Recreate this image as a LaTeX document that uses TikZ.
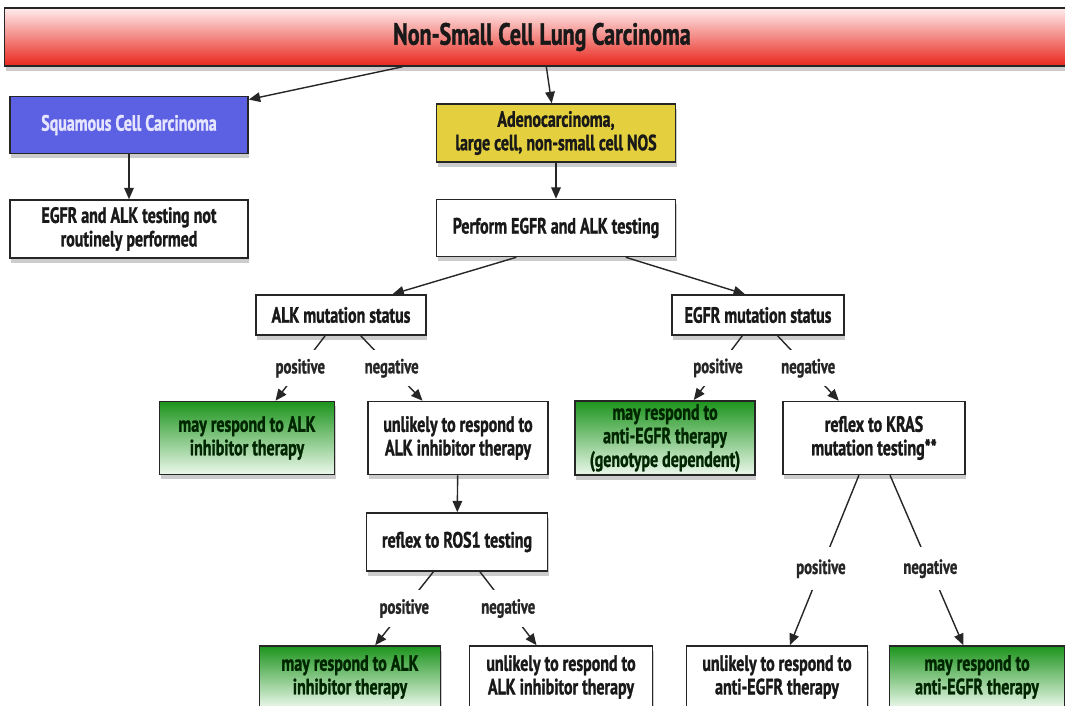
\documentclass[tikz,border=0pt]{standalone}
\usepackage{fontspec}
\setmainfont{PT Sans}[FakeStretch=0.72, BoldFeatures={FakeBold=1.2}]
\usetikzlibrary{arrows.meta,calc,shadows}

\definecolor{sqblue}{RGB}{92,96,226}
\definecolor{adyellow}{RGB}{228,208,62}
\definecolor{gtop}{RGB}{28,148,28}
\definecolor{gbot}{RGB}{236,248,236}
\definecolor{rtop}{RGB}{255,236,236}
\definecolor{rbot}{RGB}{232,38,28}

\tikzset{
  box/.style={draw=black!85, line width=0.9pt, fill=white, align=center,
    font=\fontsize{12.6}{13.4}\selectfont\bfseries, text=black!90, inner sep=2pt,
    drop shadow={shadow xshift=0.6pt, shadow yshift=-2.6pt, opacity=0.4}},
  greenbox/.style={box, top color=gtop, bottom color=gbot, text=black!85!green},
  lbl/.style={fill=white, font=\fontsize{11.6}{12}\selectfont\bfseries, text=black!85,
    inner xsep=1pt, inner ysep=5pt},
  arr/.style={-{Triangle[length=6.5pt,width=5.5pt]}, line width=0.8pt, draw=black!85},
}

\begin{document}
\begin{tikzpicture}[x=0.02cm,y=-0.02cm]
\useasboundingbox (0,0) rectangle (1065,706);

\node[box, top color=rtop, bottom color=rbot, minimum width=21.5cm, minimum height=1.16cm,
  font=\fontsize{17.4}{18}\selectfont\bfseries] (nsclc) at (542,37) {Non-Small Cell Lung Carcinoma};

\node[box, fill=sqblue, text=white!90!blue, minimum width=4.76cm, minimum height=1.14cm] (squam) at (129,125) {Squamous Cell Carcinoma};
\node[box, minimum width=4.76cm, minimum height=1.16cm] (notrout) at (129,229) {EGFR and ALK testing not\\routinely performed};

\node[box, fill=adyellow, minimum width=4.78cm, minimum height=1.16cm] (adeno) at (556,133) {Adenocarcinoma,\\large cell, non-small cell NOS};
\node[box, minimum width=4.78cm, minimum height=1.14cm] (perform) at (556,228) {Perform EGFR and ALK testing};

\node[box, minimum width=3.4cm, minimum height=0.8cm] (alk) at (341,315) {ALK mutation status};
\node[box, minimum width=3.44cm, minimum height=0.8cm] (egfr) at (758,315) {EGFR mutation status};

\node[greenbox, minimum width=3.5cm, minimum height=1.46cm] (mayalk) at (247,438) {may respond to ALK\\inhibitor therapy};
\node[box, minimum width=3.6cm, minimum height=1.46cm] (unlalk) at (458,438) {unlikely to respond to\\ALK inhibitor therapy};
\node[greenbox, minimum width=3.6cm, minimum height=1.46cm] (mayegfr) at (665,438) {may respond to\\anti-EGFR therapy\\(genotype dependent)};
\node[box, minimum width=3.64cm, minimum height=1.46cm] (kras) at (874,438) {reflex to KRAS\\mutation testing**};

\node[box, minimum width=3.62cm, minimum height=1.16cm] (ros) at (457,542) {reflex to ROS1 testing};

\node[greenbox, minimum width=3.62cm, minimum height=1.24cm] (mayalkb) at (350,677) {may respond to ALK\\inhibitor therapy};
\node[box, minimum width=3.66cm, minimum height=1.24cm] (unlalkb) at (561,677) {unlikely to respond to\\ALK inhibitor therapy};
\node[box, minimum width=3.62cm, minimum height=1.24cm] (unlegfr) at (777,677) {unlikely to respond to\\anti-EGFR therapy};
\node[greenbox, minimum width=3.5cm, minimum height=1.24cm] (mayegfrb) at (977,677) {may respond to\\anti-EGFR therapy};

\draw[arr] (nsclc) -- (squam);
\draw[arr] (nsclc) -- (adeno);
\draw[arr] (squam) -- (notrout);
\draw[arr] (adeno) -- (perform);
\draw[arr] ($(perform.south)!.33!(perform.south west)$) -- ($(alk.north)!.6!(alk.north east)$);
\draw[arr] ($(perform.south)!.58!(perform.south east)$) -- ($(egfr.north)!.15!(egfr.north west)$);

\draw[arr] (alk) -- node[lbl] (alkpos) {positive} (mayalk);
\draw[arr] (alk) -- node[lbl] (alkneg) {negative} (unlalk);
\draw[arr] (egfr) -- node[lbl] (egfrpos) {positive} (mayegfr);
\draw[arr] (egfr) -- node[lbl] (egfrneg) {negative} (kras);
\draw[arr] (unlalk) -- (ros);
\draw[arr] (ros) -- node[lbl] (rospos) {positive} (mayalkb);
\draw[arr] (ros) -- node[lbl] (rosneg) {negative} (unlalkb);
\draw[arr] (kras) -- node[lbl, pos=0.55, inner ysep=7pt] (kraspos) {positive} (unlegfr);
\draw[arr] (kras) -- node[lbl, pos=0.55, inner ysep=7pt] (krasneg) {negative} (mayegfrb);
\end{tikzpicture}
\end{document}
